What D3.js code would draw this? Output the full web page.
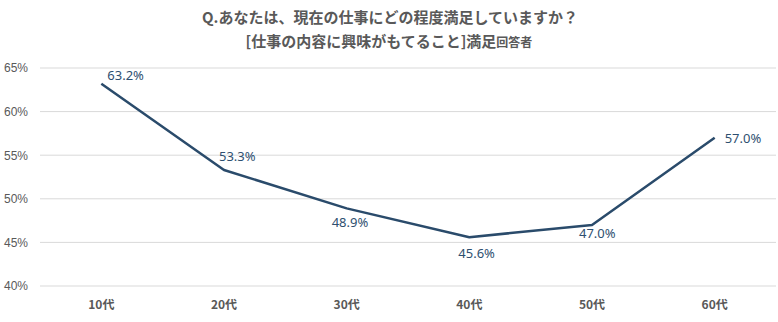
<!DOCTYPE html>
<html><head><meta charset="utf-8">
<script src="https://cdn.jsdelivr.net/npm/d3@7"></script>
<style>
body{margin:0;background:#fff;}
svg{display:block;font-family:"Noto Sans","Noto Sans CJK JP",sans-serif;}
</style></head>
<body><div id="chart"></div>
<script>
const categories = ["10代","20代","30代","40代","50代","60代"];
const values = [63.2, 53.3, 48.9, 45.6, 47.0, 57.0];
const yTicks = [40, 45, 50, 55, 60, 65];
// label placement offsets (dx to label start, dy to baseline) relative to point
const labelDx = [6, -5, -15, -11, -13, 10];
const labelDy = [-4, -9, 19, 21, 13, 5];
const titleLine1 = "Q.あなたは、現在の仕事にどの程度満足していますか？";
const titleLine2 = "[仕事の内容に興味がもてること]満足";
const titleSuffix = "回答者";

const W = 778, H = 322;
const m = {left: 40, right: 2, top: 68, bottom: 36};
const svg = d3.select("#chart").append("svg").attr("width", W).attr("height", H);

const x = d3.scaleBand().domain(categories).range([m.left, W - m.right]);
const y = d3.scaleLinear().domain([40, 65]).range([H - m.bottom, m.top]);

svg.append("g").selectAll("line").data(yTicks).join("line")
  .attr("x1", m.left).attr("x2", W - m.right)
  .attr("y1", d => y(d)).attr("y2", d => y(d))
  .attr("stroke", "#d9d9d9").attr("stroke-width", 1);

const yAxis = svg.append("g").attr("transform", `translate(${m.left},0)`)
  .call(d3.axisLeft(y).tickValues(yTicks).tickFormat(d => d + "%").tickSize(0).tickPadding(12));
yAxis.select(".domain").remove();
yAxis.selectAll("text").attr("fill", "#595959").attr("font-size", 12);

const xAxis = svg.append("g").attr("transform", `translate(0,${H - m.bottom})`)
  .call(d3.axisBottom(x).tickSize(0).tickPadding(14));
xAxis.select(".domain").remove();
xAxis.selectAll("text").attr("fill", "#595959").attr("font-size", 12).attr("font-weight", "bold")
  .attr("font-family", "'Noto Sans CJK JP',sans-serif");

const pts = categories.map((c, i) => ({c, v: values[i], dx: labelDx[i], dy: labelDy[i]}));
svg.append("path").datum(pts)
  .attr("fill", "none").attr("stroke", "#2a4b6b").attr("stroke-width", 2.5)
  .attr("stroke-linejoin", "round")
  .attr("d", d3.line().x(d => x(d.c) + x.bandwidth() / 2).y(d => y(d.v)));

svg.append("g").selectAll("text").data(pts).join("text")
  .attr("x", d => x(d.c) + x.bandwidth() / 2 + d.dx)
  .attr("y", d => y(d.v) + d.dy)
  .attr("text-anchor", "start")
  .attr("fill", "#2e4f70").attr("font-size", 13)
  .text(d => d.v.toFixed(1) + "%");

svg.append("text").attr("x", W / 2 + 1).attr("y", 23).attr("text-anchor", "middle")
  .attr("font-family", "'Noto Sans CJK JP',sans-serif").attr("font-size", 15).attr("font-weight", "bold")
  .attr("fill", "#595959").text(titleLine1);
const t2 = svg.append("text").attr("x", W / 2).attr("y", 47).attr("text-anchor", "middle")
  .attr("font-family", "'Noto Sans CJK JP',sans-serif").attr("font-weight", "bold").attr("fill", "#595959");
t2.append("tspan").attr("font-size", 15).text(titleLine2);
t2.append("tspan").attr("font-size", 12).text(titleSuffix);
</script></body></html>
